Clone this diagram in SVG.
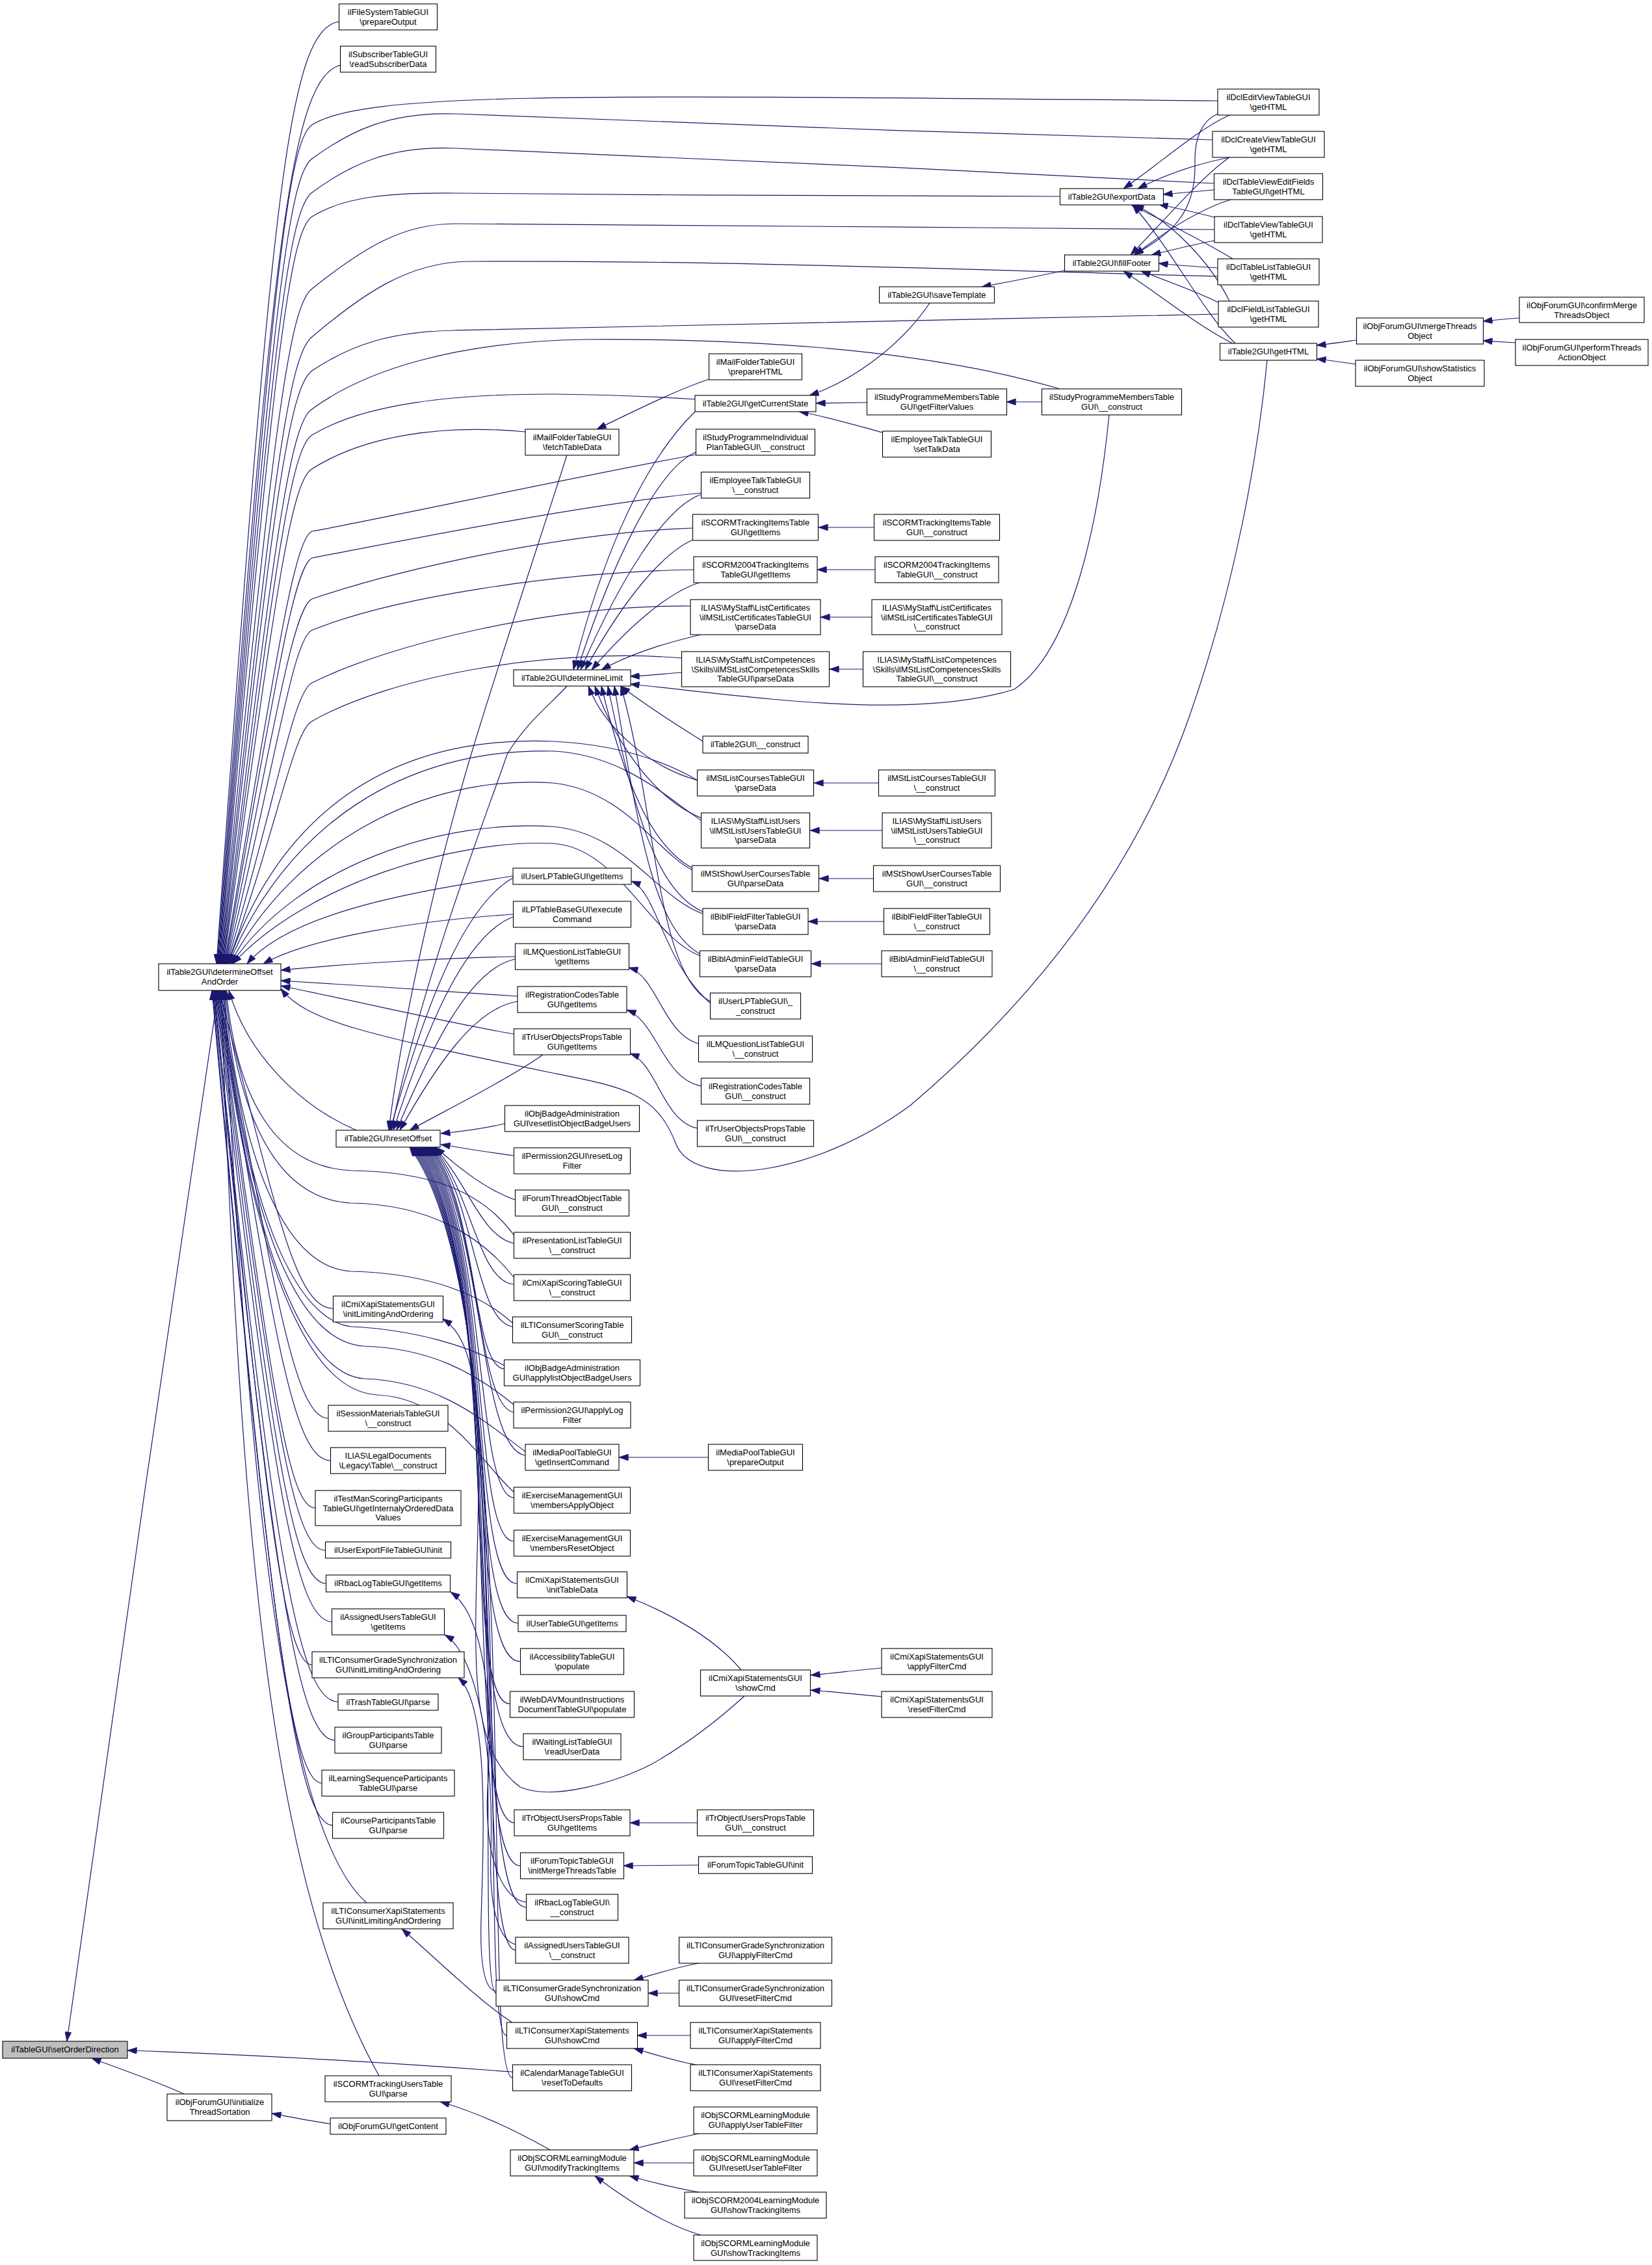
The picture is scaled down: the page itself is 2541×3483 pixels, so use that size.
<svg xmlns="http://www.w3.org/2000/svg" width="2541" height="3483" viewBox="0 0 2541 3483">
<style>
.n rect{fill:#fff;stroke:#000;stroke-width:1.1}
.n text{font-family:"Liberation Sans",Arial,Helvetica,sans-serif;font-size:13px;text-anchor:middle;fill:#000}
.e path{fill:none;stroke:#191970;stroke-width:1.2;marker-start:url(#ah)}
</style>
<defs>
<marker id="ah" viewBox="0 0 10 7" refX="10" refY="3.5" markerWidth="15" markerHeight="10" markerUnits="userSpaceOnUse" orient="auto-start-reverse">
<path d="M0,0L10,3.5L0,7z" fill="#191970" stroke="#191970" stroke-width="0.5"/>
</marker>
</defs>
<rect x="0" y="0" width="2541" height="3483" fill="#fff"/>
<g id="edges" class="e">
<path d="M 103,3139 C 140,2850 280,1900 336,1523"/>
<path d="M 196,3153 C 400,3160 600,3172 788,3186"/>
<path d="M 141,3165 C 180,3180 240,3200 283,3220"/>
<path d="M 418,3250 C 450,3256 480,3262 508,3266"/>
<path d="M 333,1482 C 420,260 445,50 521,33"/>
<path d="M 334,1482 C 420,340 450,120 524,100"/>
<path d="M 335,1482 C 420,400 445,215 480,192 C 560,140 900,146 1873,155"/>
<path d="M 336,1482 C 420,450 445,270 480,244 C 540,200 600,172 700,175 C 1000,188 1500,206 1865,215"/>
<path d="M 337,1482 C 420,500 445,322 480,296 C 540,252 600,224 700,228 C 1000,240 1500,262 1867,282"/>
<path d="M 338,1482 C 420,560 445,355 480,333 C 530,302 600,296 700,297 C 1000,300 1400,302 1630,302"/>
<path d="M 339,1482 C 420,650 445,470 480,444 C 560,380 620,344 700,344 C 1000,346 1500,350 1868,353"/>
<path d="M 340,1482 C 420,720 445,545 480,518 C 560,450 630,403 720,402 C 1100,400 1500,415 1873,425"/>
<path d="M 341,1482 C 420,770 445,595 480,570 C 540,530 600,510 700,508 C 1100,500 1500,490 1874,483"/>
<path d="M 342,1482 C 420,850 445,650 480,629 C 560,570 700,525 900,522 C 1200,520 1450,545 1630,598"/>
<path d="M 343,1482 C 420,900 445,690 480,669 C 560,620 700,606 850,606 C 950,607 1010,610 1069,614"/>
<path d="M 344,1482 C 420,950 445,740 480,721 C 560,670 680,652 808,664"/>
<path d="M 345,1482 C 420,1050 450,830 480,817 C 600,795 900,730 1071,699"/>
<path d="M 346,1482 C 420,1080 450,872 480,858 C 600,835 900,775 1079,758"/>
<path d="M 347,1482 C 420,1130 450,935 480,921 C 600,880 850,820 1066,812"/>
<path d="M 348,1482 C 425,1170 450,982 480,969 C 600,920 850,880 1067,876"/>
<path d="M 349,1482 C 425,1230 450,1065 480,1050 C 600,990 850,930 1062,932"/>
<path d="M 350,1482 C 425,1280 450,1125 480,1109 C 600,1040 850,995 1049,1012"/>
<path d="M 351,1482 C 430,1250 600,1130 850,1140 C 960,1145 1030,1175 1073,1200"/>
<path d="M 352,1482 C 440,1270 620,1150 850,1155 C 960,1160 1030,1230 1079,1262"/>
<path d="M 354,1482 C 450,1300 650,1190 850,1204 C 960,1215 1010,1310 1065,1338"/>
<path d="M 356,1482 C 460,1330 680,1260 850,1271 C 960,1280 1010,1380 1081,1405"/>
<path d="M 358,1482 C 470,1360 700,1290 850,1297 C 950,1302 1000,1440 1077,1470"/>
<path d="M 380,1482 C 450,1400 650,1370 789,1347"/>
<path d="M 405,1482 C 480,1440 650,1415 789,1406"/>
<path d="M 432,1492 C 550,1480 700,1473 792,1471"/>
<path d="M 432,1508 C 550,1515 700,1525 796,1532"/>
<path d="M 432,1516 C 550,1540 700,1575 790,1590"/>
<path d="M 432,1520 C 470,1570 560,1590 850,1650 C 960,1672 1010,1680 1040,1760 C 1070,1830 1250,1810 1400,1700 C 1600,1530 1750,1330 1830,1100 C 1900,900 1935,700 1949,554"/>
<path d="M 352,1523 C 380,1620 460,1700 548,1738"/>
<path d="M 348,1523 C 365,1700 430,1795 540,1800 C 660,1802 740,1830 791,1900"/>
<path d="M 346,1523 C 370,1750 440,1845 540,1850 C 660,1852 740,1900 791,1965"/>
<path d="M 344,1523 C 375,1820 450,1950 540,1955 C 660,1958 740,1990 789,2035"/>
<path d="M 342,1523 C 380,1880 460,2030 540,2040 C 640,2045 720,2070 776,2100"/>
<path d="M 340,1523 C 385,1920 470,2065 560,2070 C 660,2073 730,2110 790,2160"/>
<path d="M 338,1523 C 390,1960 480,2115 560,2120 C 680,2124 750,2190 808,2232"/>
<path d="M 336,1523 C 395,2000 490,2140 580,2145 C 690,2150 740,2250 791,2295"/>
<path d="M 337,1523 C 420,1830 450,2012 512,2012"/>
<path d="M 336,1523 C 420,1960 450,2181 505,2181"/>
<path d="M 335,1523 C 420,2040 450,2246 508,2246"/>
<path d="M 334,1523 C 415,2100 440,2319 485,2319"/>
<path d="M 333,1523 C 420,2180 450,2384 500,2384"/>
<path d="M 332,1523 C 420,2230 450,2435 502,2435"/>
<path d="M 331,1523 C 420,2290 455,2494 511,2494"/>
<path d="M 330,1523 C 410,2350 440,2560 480,2560"/>
<path d="M 329,1523 C 420,2400 460,2617 520,2617"/>
<path d="M 328,1523 C 420,2450 460,2676 515,2676"/>
<path d="M 327,1523 C 415,2500 450,2742 495,2742"/>
<path d="M 326,1523 C 420,2560 460,2807 512,2807"/>
<path d="M 345,1523 C 380,2300 440,2820 564,2926"/>
<path d="M 340,1523 C 370,2400 420,2900 583,3192"/>
<path d="M 678,1743 C 710,1740 745,1735 776,1728"/>
<path d="M 678,1760 C 710,1765 750,1772 790,1777"/>
<path d="M 670,1764 C 710,1800 750,1830 792,1845"/>
<path d="M 668,1764 C 720,1820 740,1900 790,1912"/>
<path d="M 666,1764 C 725,1830 735,1970 790,1975"/>
<path d="M 664,1764 C 730,1840 730,2030 788,2040"/>
<path d="M 662,1764 C 735,1850 725,2100 775,2105"/>
<path d="M 660,1764 C 740,1860 730,2160 790,2172"/>
<path d="M 658,1764 C 745,1870 735,2230 808,2238"/>
<path d="M 656,1764 C 750,1880 730,2300 790,2303"/>
<path d="M 654,1764 C 755,1890 725,2370 790,2370"/>
<path d="M 652,1764 C 760,1900 720,2435 795,2435"/>
<path d="M 650,1764 C 765,1910 715,2495 797,2496"/>
<path d="M 648,1764 C 770,1920 710,2555 800,2555"/>
<path d="M 646,1764 C 775,1930 705,2620 784,2620"/>
<path d="M 644,1764 C 780,1940 700,2686 805,2686"/>
<path d="M 642,1764 C 785,1950 705,2800 791,2803"/>
<path d="M 640,1764 C 790,1960 710,2868 800,2869"/>
<path d="M 638,1764 C 795,1970 715,2930 809,2933"/>
<path d="M 636,1764 C 800,1980 720,2995 793,2999"/>
<path d="M 634,1764 C 805,1990 725,3060 763,3065"/>
<path d="M 632,1764 C 810,2000 730,3128 779,3130"/>
<path d="M 630,1764 C 815,2010 735,3190 788,3195"/>
<path d="M 600,1738 C 640,1600 700,1400 789,1350"/>
<path d="M 605,1738 C 650,1600 710,1440 789,1410"/>
<path d="M 610,1738 C 660,1620 720,1490 792,1475"/>
<path d="M 615,1738 C 670,1640 730,1550 796,1540"/>
<path d="M 630,1738 C 700,1700 780,1660 835,1622"/>
<path d="M 598,1738 C 620,1560 680,1300 740,1110 C 790,950 840,800 872,700"/>
<path d="M 602,1738 C 650,1500 750,1250 780,1160 C 810,1110 850,1080 872,1055"/>
<path d="M 882,1030 C 920,880 980,720 1069,633"/>
<path d="M 888,1030 C 940,870 1010,720 1071,695"/>
<path d="M 893,1030 C 950,900 1020,780 1079,760"/>
<path d="M 900,1030 C 960,920 1020,850 1066,830"/>
<path d="M 910,1030 C 970,960 1030,910 1076,896"/>
<path d="M 925,1030 C 980,1000 1040,985 1078,976"/>
<path d="M 969,1040 C 1000,1039 1020,1036 1049,1034"/>
<path d="M 955,1055 C 1000,1090 1050,1120 1081,1140"/>
<path d="M 969,1052 C 1150,1070 1400,1110 1560,1060 C 1650,1000 1690,800 1706,638"/>
<path d="M 905,1055 C 930,1120 1000,1180 1073,1200"/>
<path d="M 915,1055 C 950,1150 1010,1230 1079,1258"/>
<path d="M 925,1055 C 960,1200 1000,1300 1065,1335"/>
<path d="M 935,1055 C 975,1250 1010,1370 1081,1402"/>
<path d="M 945,1055 C 985,1300 1010,1430 1077,1467"/>
<path d="M 955,1055 C 1010,1250 1010,1500 1093,1540"/>
<path d="M 971,1355 C 1010,1370 1020,1480 1093,1543"/>
<path d="M 967,1488 C 1010,1500 1020,1590 1075,1605"/>
<path d="M 964,1553 C 1010,1570 1020,1660 1079,1670"/>
<path d="M 969,1620 C 1010,1635 1020,1725 1073,1735"/>
<path d="M 952,2241 L 1090,2241"/>
<path d="M 964,2455 C 1030,2480 1100,2520 1140,2568"/>
<path d="M 681,2028 C 730,2060 740,2150 735,2350 C 730,2550 720,2690 800,2748 C 850,2770 950,2740 1002,2713 C 1060,2680 1110,2640 1145,2608"/>
<path d="M 705,2580 C 750,2620 745,2800 740,2950 C 738,3020 745,3060 763,3062"/>
<path d="M 618,2966 C 680,3020 740,3080 791,3112"/>
<path d="M 693,2448 C 740,2480 760,2600 750,2750 C 745,2850 770,2920 809,2925"/>
<path d="M 684,2514 C 730,2540 760,2680 755,2850 C 752,2940 770,2985 793,2990"/>
<path d="M 677,3232 C 740,3250 800,3280 846,3306"/>
<path d="M 969,2803 L 1073,2803"/>
<path d="M 959,2869 L 1075,2868"/>
<path d="M 975,3045 C 1010,3035 1040,3025 1075,3019"/>
<path d="M 997,3065 L 1045,3065"/>
<path d="M 980,3130 L 1062,3130"/>
<path d="M 975,3150 C 1010,3160 1040,3170 1075,3176"/>
<path d="M 968,3306 C 1000,3298 1040,3288 1075,3281"/>
<path d="M 975,3326 L 1067,3326"/>
<path d="M 968,3346 C 1000,3355 1040,3365 1075,3371"/>
<path d="M 915,3346 C 960,3380 1020,3420 1078,3437"/>
<path d="M 1247,2576 C 1290,2572 1320,2568 1356,2565"/>
<path d="M 1247,2599 C 1290,2602 1320,2606 1356,2609"/>
<path d="M 1259,811 L 1344,811"/>
<path d="M 1257,876 L 1346,876"/>
<path d="M 1262,949 L 1341,949"/>
<path d="M 1276,1029 L 1327,1029"/>
<path d="M 1252,1204 L 1351,1204"/>
<path d="M 1246,1277 L 1357,1277"/>
<path d="M 1260,1351 L 1343,1351"/>
<path d="M 1243,1417 L 1359,1417"/>
<path d="M 1248,1482 L 1356,1482"/>
<path d="M 1255,620 L 1333,619"/>
<path d="M 1229,633 C 1270,640 1320,655 1357,665"/>
<path d="M 1245,608 C 1300,590 1380,540 1430,466"/>
<path d="M 1548,618 L 1602,618"/>
<path d="M 918,660 C 980,630 1040,600 1091,583"/>
<path d="M 1510,441 C 1560,432 1600,424 1637,416"/>
<path d="M 1728,290 C 1780,255 1840,200 1891,177"/>
<path d="M 1750,290 C 1800,265 1850,250 1891,242"/>
<path d="M 1789,299 L 1867,292"/>
<path d="M 1782,314 C 1810,320 1840,327 1868,334"/>
<path d="M 1740,315 C 1790,340 1850,370 1896,398"/>
<path d="M 1745,315 C 1800,340 1860,400 1891,463"/>
<path d="M 1742,315 C 1800,380 1850,480 1900,528"/>
<path d="M 1744,392 C 1800,360 1840,330 1838,250 C 1837,210 1850,185 1873,175"/>
<path d="M 1739,392 C 1790,340 1850,270 1891,242"/>
<path d="M 1745,392 C 1800,350 1850,320 1893,307"/>
<path d="M 1771,392 C 1800,385 1840,375 1868,370"/>
<path d="M 1782,405 C 1810,408 1840,410 1873,412"/>
<path d="M 1755,417 C 1790,430 1840,448 1874,465"/>
<path d="M 1728,417 C 1780,450 1840,500 1896,528"/>
<path d="M 2025,531 C 2045,529 2065,526 2086,523"/>
<path d="M 2025,552 C 2045,554 2065,557 2085,560"/>
<path d="M 2281,494 C 2300,492 2320,490 2337,489"/>
<path d="M 2281,524 L 2331,527"/>
</g>
<g id="n_A" class="n"><rect x="4" y="3139" width="192" height="26" style="fill:#bfbfbf"/><text x="100" y="3156">ilTableGUI\setOrderDirection</text></g>
<g id="n_B" class="n"><rect x="244" y="1482" width="188" height="41"/><text x="338" y="1499">ilTable2GUI\determineOffset</text><text x="338" y="1514">AndOrder</text></g>
<g id="n_FT" class="n"><rect x="257" y="3220" width="161" height="41"/><text x="338" y="3237">ilObjForumGUI\initialize</text><text x="338" y="3252">ThreadSortation</text></g>
<g id="n_GC" class="n"><rect x="508" y="3257" width="178" height="25"/><text x="597" y="3274">ilObjForumGUI\getContent</text></g>
<g id="n_FS" class="n"><rect x="521.5" y="6" width="151" height="40"/><text x="597" y="23">ilFileSystemTableGUI</text><text x="597" y="38">\prepareOutput</text></g>
<g id="n_SUB" class="n"><rect x="523.5" y="71" width="147" height="40"/><text x="597" y="88">ilSubscriberTableGUI</text><text x="597" y="103">\readSubscriberData</text></g>
<g id="n_RO" class="n"><rect x="517" y="1738" width="160" height="26"/><text x="597" y="1755">ilTable2GUI\resetOffset</text></g>
<g id="n_CXI" class="n"><rect x="512.5" y="1993" width="169" height="40"/><text x="597" y="2010">ilCmiXapiStatementsGUI</text><text x="597" y="2025">\initLimitingAndOrdering</text></g>
<g id="n_SM" class="n"><rect x="505" y="2161" width="184" height="40"/><text x="597" y="2178">ilSessionMaterialsTableGUI</text><text x="597" y="2193">\__construct</text></g>
<g id="n_LD" class="n"><rect x="508.5" y="2226" width="177" height="40"/><text x="597" y="2243">ILIAS\LegalDocuments</text><text x="597" y="2258">\Legacy\Table\__construct</text></g>
<g id="n_TMS" class="n"><rect x="485" y="2292" width="224" height="54"/><text x="597" y="2309">ilTestManScoringParticipants</text><text x="597" y="2323.5">TableGUI\getInternalyOrderedData</text><text x="597" y="2338">Values</text></g>
<g id="n_UEF" class="n"><rect x="500.5" y="2371" width="193" height="25"/><text x="597" y="2388">ilUserExportFileTableGUI\init</text></g>
<g id="n_RLG" class="n"><rect x="501.5" y="2422" width="191" height="26"/><text x="597" y="2439">ilRbacLogTableGUI\getItems</text></g>
<g id="n_AUG" class="n"><rect x="510.5" y="2474" width="173" height="40"/><text x="597" y="2491">ilAssignedUsersTableGUI</text><text x="597" y="2506">\getItems</text></g>
<g id="n_LGI" class="n"><rect x="480" y="2540" width="234" height="40"/><text x="597" y="2557">ilLTIConsumerGradeSynchronization</text><text x="597" y="2572">GUI\initLimitingAndOrdering</text></g>
<g id="n_TR" class="n"><rect x="520" y="2605" width="154" height="25"/><text x="597" y="2622">ilTrashTableGUI\parse</text></g>
<g id="n_GP" class="n"><rect x="515" y="2656" width="164" height="40"/><text x="597" y="2673">ilGroupParticipantsTable</text><text x="597" y="2688">GUI\parse</text></g>
<g id="n_LS" class="n"><rect x="495" y="2722" width="204" height="40"/><text x="597" y="2739">ilLearningSequenceParticipants</text><text x="597" y="2754">TableGUI\parse</text></g>
<g id="n_CP" class="n"><rect x="511.5" y="2787" width="171" height="40"/><text x="597" y="2804">ilCourseParticipantsTable</text><text x="597" y="2819">GUI\parse</text></g>
<g id="n_LXI" class="n"><rect x="497" y="2926" width="200" height="40"/><text x="597" y="2943">ilLTIConsumerXapiStatements</text><text x="597" y="2958">GUI\initLimitingAndOrdering</text></g>
<g id="n_STU" class="n"><rect x="500" y="3192" width="194" height="40"/><text x="597" y="3209">ilSCORMTrackingUsersTable</text><text x="597" y="3224">GUI\parse</text></g>
<g id="n_MFF" class="n"><rect x="808" y="660" width="144" height="40"/><text x="880" y="677">ilMailFolderTableGUI</text><text x="880" y="692">\fetchTableData</text></g>
<g id="n_DL" class="n"><rect x="790" y="1030" width="180" height="25"/><text x="880" y="1047">ilTable2GUI\determineLimit</text></g>
<g id="n_ULG" class="n"><rect x="789" y="1335" width="182" height="25"/><text x="880" y="1352">ilUserLPTableGUI\getItems</text></g>
<g id="n_LPB" class="n"><rect x="789.5" y="1386" width="181" height="40"/><text x="880" y="1403">ilLPTableBaseGUI\execute</text><text x="880" y="1418">Command</text></g>
<g id="n_LMQ" class="n"><rect x="792.5" y="1451" width="175" height="40"/><text x="880" y="1468">ilLMQuestionListTableGUI</text><text x="880" y="1483">\getItems</text></g>
<g id="n_RCG" class="n"><rect x="796" y="1517" width="168" height="40"/><text x="880" y="1534">ilRegistrationCodesTable</text><text x="880" y="1549">GUI\getItems</text></g>
<g id="n_TUG" class="n"><rect x="790.5" y="1582" width="179" height="40"/><text x="880" y="1599">ilTrUserObjectsPropsTable</text><text x="880" y="1614">GUI\getItems</text></g>
<g id="n_OBR" class="n"><rect x="776.5" y="1700" width="207" height="40"/><text x="880" y="1717">ilObjBadgeAdministration</text><text x="880" y="1732">GUI\resetlistObjectBadgeUsers</text></g>
<g id="n_PRL" class="n"><rect x="790.5" y="1765" width="179" height="40"/><text x="880" y="1782">ilPermission2GUI\resetLog</text><text x="880" y="1797">Filter</text></g>
<g id="n_FTO" class="n"><rect x="792.5" y="1830" width="175" height="40"/><text x="880" y="1847">ilForumThreadObjectTable</text><text x="880" y="1862">GUI\__construct</text></g>
<g id="n_PLT" class="n"><rect x="790.5" y="1895" width="179" height="40"/><text x="880" y="1912">ilPresentationListTableGUI</text><text x="880" y="1927">\__construct</text></g>
<g id="n_CXS" class="n"><rect x="790.5" y="1960" width="179" height="40"/><text x="880" y="1977">ilCmiXapiScoringTableGUI</text><text x="880" y="1992">\__construct</text></g>
<g id="n_LCS" class="n"><rect x="788.5" y="2025" width="183" height="40"/><text x="880" y="2042">ilLTIConsumerScoringTable</text><text x="880" y="2057">GUI\__construct</text></g>
<g id="n_OBA" class="n"><rect x="775.5" y="2091" width="209" height="40"/><text x="880" y="2108">ilObjBadgeAdministration</text><text x="880" y="2123">GUI\applylistObjectBadgeUsers</text></g>
<g id="n_PAL" class="n"><rect x="790" y="2156" width="180" height="40"/><text x="880" y="2173">ilPermission2GUI\applyLog</text><text x="880" y="2188">Filter</text></g>
<g id="n_MPI" class="n"><rect x="808" y="2221" width="144" height="40"/><text x="880" y="2238">ilMediaPoolTableGUI</text><text x="880" y="2253">\getInsertCommand</text></g>
<g id="n_EMA" class="n"><rect x="790.5" y="2287" width="179" height="40"/><text x="880" y="2304">ilExerciseManagementGUI</text><text x="880" y="2319">\membersApplyObject</text></g>
<g id="n_EMR" class="n"><rect x="790.5" y="2353" width="179" height="40"/><text x="880" y="2370">ilExerciseManagementGUI</text><text x="880" y="2385">\membersResetObject</text></g>
<g id="n_CXT" class="n"><rect x="795.5" y="2417" width="169" height="40"/><text x="880" y="2434">ilCmiXapiStatementsGUI</text><text x="880" y="2449">\initTableData</text></g>
<g id="n_UTG" class="n"><rect x="797" y="2484" width="166" height="25"/><text x="880" y="2501">ilUserTableGUI\getItems</text></g>
<g id="n_ACC" class="n"><rect x="800.5" y="2535" width="159" height="40"/><text x="880" y="2552">ilAccessibilityTableGUI</text><text x="880" y="2567">\populate</text></g>
<g id="n_WDV" class="n"><rect x="784.5" y="2601" width="191" height="40"/><text x="880" y="2618">ilWebDAVMountInstructions</text><text x="880" y="2633">DocumentTableGUI\populate</text></g>
<g id="n_WLT" class="n"><rect x="805" y="2666" width="150" height="40"/><text x="880" y="2683">ilWaitingListTableGUI</text><text x="880" y="2698">\readUserData</text></g>
<g id="n_TOG" class="n"><rect x="791" y="2783" width="178" height="40"/><text x="880" y="2800">ilTrObjectUsersPropsTable</text><text x="880" y="2815">GUI\getItems</text></g>
<g id="n_FTT" class="n"><rect x="800.5" y="2849" width="159" height="40"/><text x="880" y="2866">ilForumTopicTableGUI</text><text x="880" y="2881">\initMergeThreadsTable</text></g>
<g id="n_RLC" class="n"><rect x="809.5" y="2913" width="141" height="40"/><text x="880" y="2930">ilRbacLogTableGUI\</text><text x="880" y="2945">__construct</text></g>
<g id="n_AUC" class="n"><rect x="793" y="2979" width="174" height="40"/><text x="880" y="2996">ilAssignedUsersTableGUI</text><text x="880" y="3011">\__construct</text></g>
<g id="n_LGS" class="n"><rect x="763" y="3045" width="234" height="40"/><text x="880" y="3062">ilLTIConsumerGradeSynchronization</text><text x="880" y="3077">GUI\showCmd</text></g>
<g id="n_LXS" class="n"><rect x="779.5" y="3110" width="201" height="40"/><text x="880" y="3127">ilLTIConsumerXapiStatements</text><text x="880" y="3142">GUI\showCmd</text></g>
<g id="n_CAL" class="n"><rect x="788.5" y="3175" width="183" height="40"/><text x="880" y="3192">ilCalendarManageTableGUI</text><text x="880" y="3207">\resetToDefaults</text></g>
<g id="n_OSM" class="n"><rect x="785" y="3306" width="190" height="40"/><text x="880" y="3323">ilObjSCORMLearningModule</text><text x="880" y="3338">GUI\modifyTrackingItems</text></g>
<g id="n_MFP" class="n"><rect x="1090.5" y="544" width="143" height="40"/><text x="1162" y="561">ilMailFolderTableGUI</text><text x="1162" y="576">\prepareHTML</text></g>
<g id="n_GCS" class="n"><rect x="1069" y="608" width="186" height="25"/><text x="1162" y="625">ilTable2GUI\getCurrentState</text></g>
<g id="n_SPI" class="n"><rect x="1070.5" y="660" width="183" height="40"/><text x="1162" y="677">ilStudyProgrammeIndividual</text><text x="1162" y="692">PlanTableGUI\__construct</text></g>
<g id="n_ETC" class="n"><rect x="1078.5" y="726" width="167" height="40"/><text x="1162" y="743">ilEmployeeTalkTableGUI</text><text x="1162" y="758">\__construct</text></g>
<g id="n_STG" class="n"><rect x="1065.5" y="791" width="193" height="40"/><text x="1162" y="808">ilSCORMTrackingItemsTable</text><text x="1162" y="823">GUI\getItems</text></g>
<g id="n_S4G" class="n"><rect x="1067" y="856" width="190" height="40"/><text x="1162" y="873">ilSCORM2004TrackingItems</text><text x="1162" y="888">TableGUI\getItems</text></g>
<g id="n_LCP" class="n"><rect x="1062" y="922" width="200" height="54"/><text x="1162" y="939">ILIAS\MyStaff\ListCertificates</text><text x="1162" y="953.5">\ilMStListCertificatesTableGUI</text><text x="1162" y="968">\parseData</text></g>
<g id="n_LKP" class="n"><rect x="1048.5" y="1002" width="227" height="54"/><text x="1162" y="1019">ILIAS\MyStaff\ListCompetences</text><text x="1162" y="1033.5">\Skills\ilMStListCompetencesSkills</text><text x="1162" y="1048">TableGUI\parseData</text></g>
<g id="n_T2C" class="n"><rect x="1081" y="1132" width="162" height="26"/><text x="1162" y="1149">ilTable2GUI\__construct</text></g>
<g id="n_MLC" class="n"><rect x="1072.5" y="1184" width="179" height="40"/><text x="1162" y="1201">ilMStListCoursesTableGUI</text><text x="1162" y="1216">\parseData</text></g>
<g id="n_LUP" class="n"><rect x="1078.5" y="1250" width="167" height="54"/><text x="1162" y="1267">ILIAS\MyStaff\ListUsers</text><text x="1162" y="1281.5">\ilMStListUsersTableGUI</text><text x="1162" y="1296">\parseData</text></g>
<g id="n_MSU" class="n"><rect x="1064.5" y="1331" width="195" height="40"/><text x="1162" y="1348">ilMStShowUserCoursesTable</text><text x="1162" y="1363">GUI\parseData</text></g>
<g id="n_BFF" class="n"><rect x="1081" y="1397" width="162" height="40"/><text x="1162" y="1414">ilBiblFieldFilterTableGUI</text><text x="1162" y="1429">\parseData</text></g>
<g id="n_BAF" class="n"><rect x="1076.5" y="1462" width="171" height="40"/><text x="1162" y="1479">ilBiblAdminFieldTableGUI</text><text x="1162" y="1494">\parseData</text></g>
<g id="n_ULC" class="n"><rect x="1092.5" y="1527" width="139" height="40"/><text x="1162" y="1544">ilUserLPTableGUI\_</text><text x="1162" y="1559">_construct</text></g>
<g id="n_LMC" class="n"><rect x="1074.5" y="1593" width="175" height="40"/><text x="1162" y="1610">ilLMQuestionListTableGUI</text><text x="1162" y="1625">\__construct</text></g>
<g id="n_RCC" class="n"><rect x="1078.5" y="1658" width="167" height="40"/><text x="1162" y="1675">ilRegistrationCodesTable</text><text x="1162" y="1690">GUI\__construct</text></g>
<g id="n_TUC" class="n"><rect x="1072.5" y="1723" width="179" height="40"/><text x="1162" y="1740">ilTrUserObjectsPropsTable</text><text x="1162" y="1755">GUI\__construct</text></g>
<g id="n_MPO" class="n"><rect x="1089.5" y="2221" width="145" height="40"/><text x="1162" y="2238">ilMediaPoolTableGUI</text><text x="1162" y="2253">\prepareOutput</text></g>
<g id="n_CXC" class="n"><rect x="1077.5" y="2568" width="169" height="40"/><text x="1162" y="2585">ilCmiXapiStatementsGUI</text><text x="1162" y="2600">\showCmd</text></g>
<g id="n_TOC" class="n"><rect x="1072.5" y="2783" width="179" height="40"/><text x="1162" y="2800">ilTrObjectUsersPropsTable</text><text x="1162" y="2815">GUI\__construct</text></g>
<g id="n_FTI" class="n"><rect x="1074.5" y="2855" width="175" height="26"/><text x="1162" y="2872">ilForumTopicTableGUI\init</text></g>
<g id="n_LGA" class="n"><rect x="1044.5" y="2979" width="235" height="40"/><text x="1162" y="2996">ilLTIConsumerGradeSynchronization</text><text x="1162" y="3011">GUI\applyFilterCmd</text></g>
<g id="n_LGR" class="n"><rect x="1044.5" y="3045" width="235" height="40"/><text x="1162" y="3062">ilLTIConsumerGradeSynchronization</text><text x="1162" y="3077">GUI\resetFilterCmd</text></g>
<g id="n_LXA" class="n"><rect x="1062" y="3110" width="200" height="40"/><text x="1162" y="3127">ilLTIConsumerXapiStatements</text><text x="1162" y="3142">GUI\applyFilterCmd</text></g>
<g id="n_LXR" class="n"><rect x="1062" y="3175" width="200" height="40"/><text x="1162" y="3192">ilLTIConsumerXapiStatements</text><text x="1162" y="3207">GUI\resetFilterCmd</text></g>
<g id="n_OSA" class="n"><rect x="1067" y="3240" width="190" height="41"/><text x="1162" y="3257">ilObjSCORMLearningModule</text><text x="1162" y="3272">GUI\applyUserTableFilter</text></g>
<g id="n_OSR" class="n"><rect x="1067" y="3306" width="190" height="40"/><text x="1162" y="3323">ilObjSCORMLearningModule</text><text x="1162" y="3338">GUI\resetUserTableFilter</text></g>
<g id="n_O4S" class="n"><rect x="1053" y="3371" width="218" height="40"/><text x="1162" y="3388">ilObjSCORM2004LearningModule</text><text x="1162" y="3403">GUI\showTrackingItems</text></g>
<g id="n_OSS" class="n"><rect x="1067" y="3437" width="190" height="39"/><text x="1162" y="3454">ilObjSCORMLearningModule</text><text x="1162" y="3469">GUI\showTrackingItems</text></g>
<g id="n_SAV" class="n"><rect x="1352.5" y="441" width="177" height="25"/><text x="1441" y="458">ilTable2GUI\saveTemplate</text></g>
<g id="n_SPF" class="n"><rect x="1333.5" y="598" width="215" height="40"/><text x="1441" y="615">ilStudyProgrammeMembersTable</text><text x="1441" y="630">GUI\getFilterValues</text></g>
<g id="n_ETS" class="n"><rect x="1357.5" y="663" width="167" height="40"/><text x="1441" y="680">ilEmployeeTalkTableGUI</text><text x="1441" y="695">\setTalkData</text></g>
<g id="n_STC" class="n"><rect x="1344.5" y="791" width="193" height="40"/><text x="1441" y="808">ilSCORMTrackingItemsTable</text><text x="1441" y="823">GUI\__construct</text></g>
<g id="n_S4C" class="n"><rect x="1346" y="856" width="190" height="40"/><text x="1441" y="873">ilSCORM2004TrackingItems</text><text x="1441" y="888">TableGUI\__construct</text></g>
<g id="n_LCC" class="n"><rect x="1341" y="922" width="200" height="54"/><text x="1441" y="939">ILIAS\MyStaff\ListCertificates</text><text x="1441" y="953.5">\ilMStListCertificatesTableGUI</text><text x="1441" y="968">\__construct</text></g>
<g id="n_LKC" class="n"><rect x="1327.5" y="1002" width="227" height="54"/><text x="1441" y="1019">ILIAS\MyStaff\ListCompetences</text><text x="1441" y="1033.5">\Skills\ilMStListCompetencesSkills</text><text x="1441" y="1048">TableGUI\__construct</text></g>
<g id="n_MLCC" class="n"><rect x="1351.5" y="1184" width="179" height="40"/><text x="1441" y="1201">ilMStListCoursesTableGUI</text><text x="1441" y="1216">\__construct</text></g>
<g id="n_LUC" class="n"><rect x="1357" y="1250" width="168" height="54"/><text x="1441" y="1267">ILIAS\MyStaff\ListUsers</text><text x="1441" y="1281.5">\ilMStListUsersTableGUI</text><text x="1441" y="1296">\__construct</text></g>
<g id="n_MSUC" class="n"><rect x="1343.5" y="1331" width="195" height="40"/><text x="1441" y="1348">ilMStShowUserCoursesTable</text><text x="1441" y="1363">GUI\__construct</text></g>
<g id="n_BFFC" class="n"><rect x="1359.5" y="1397" width="163" height="40"/><text x="1441" y="1414">ilBiblFieldFilterTableGUI</text><text x="1441" y="1429">\__construct</text></g>
<g id="n_BAFC" class="n"><rect x="1356" y="1462" width="170" height="40"/><text x="1441" y="1479">ilBiblAdminFieldTableGUI</text><text x="1441" y="1494">\__construct</text></g>
<g id="n_CXA" class="n"><rect x="1356" y="2535" width="170" height="40"/><text x="1441" y="2552">ilCmiXapiStatementsGUI</text><text x="1441" y="2567">\applyFilterCmd</text></g>
<g id="n_CXR" class="n"><rect x="1356" y="2601" width="170" height="40"/><text x="1441" y="2618">ilCmiXapiStatementsGUI</text><text x="1441" y="2633">\resetFilterCmd</text></g>
<g id="n_EXP" class="n"><rect x="1630.5" y="290" width="159" height="25"/><text x="1710" y="307">ilTable2GUI\exportData</text></g>
<g id="n_FF" class="n"><rect x="1637.5" y="392" width="145" height="25"/><text x="1710" y="409">ilTable2GUI\fillFooter</text></g>
<g id="n_SPC" class="n"><rect x="1602.5" y="598" width="215" height="40"/><text x="1710" y="615">ilStudyProgrammeMembersTable</text><text x="1710" y="630">GUI\__construct</text></g>
<g id="n_DEV" class="n"><rect x="1873" y="137" width="156" height="40"/><text x="1951" y="154">ilDclEditViewTableGUI</text><text x="1951" y="169">\getHTML</text></g>
<g id="n_DCV" class="n"><rect x="1865" y="202" width="172" height="40"/><text x="1951" y="219">ilDclCreateViewTableGUI</text><text x="1951" y="234">\getHTML</text></g>
<g id="n_DTE" class="n"><rect x="1867.5" y="267" width="167" height="40"/><text x="1951" y="284">ilDclTableViewEditFields</text><text x="1951" y="299">TableGUI\getHTML</text></g>
<g id="n_DTV" class="n"><rect x="1868" y="333" width="166" height="40"/><text x="1951" y="350">ilDclTableViewTableGUI</text><text x="1951" y="365">\getHTML</text></g>
<g id="n_DTL" class="n"><rect x="1873" y="398" width="156" height="40"/><text x="1951" y="415">ilDclTableListTableGUI</text><text x="1951" y="430">\getHTML</text></g>
<g id="n_DFL" class="n"><rect x="1874" y="463" width="154" height="40"/><text x="1951" y="480">ilDclFieldListTableGUI</text><text x="1951" y="495">\getHTML</text></g>
<g id="n_GH" class="n"><rect x="1876.5" y="528" width="149" height="26"/><text x="1951" y="545">ilTable2GUI\getHTML</text></g>
<g id="n_MTO" class="n"><rect x="2086.5" y="489" width="195" height="40"/><text x="2184" y="506">ilObjForumGUI\mergeThreads</text><text x="2184" y="521">Object</text></g>
<g id="n_SSO" class="n"><rect x="2085" y="554" width="198" height="40"/><text x="2184" y="571">ilObjForumGUI\showStatistics</text><text x="2184" y="586">Object</text></g>
<g id="n_CMT" class="n"><rect x="2337" y="457" width="192" height="39"/><text x="2433" y="474">ilObjForumGUI\confirmMerge</text><text x="2433" y="489">ThreadsObject</text></g>
<g id="n_PTA" class="n"><rect x="2331" y="522" width="204" height="40"/><text x="2433" y="539">ilObjForumGUI\performThreads</text><text x="2433" y="554">ActionObject</text></g>
</svg>
